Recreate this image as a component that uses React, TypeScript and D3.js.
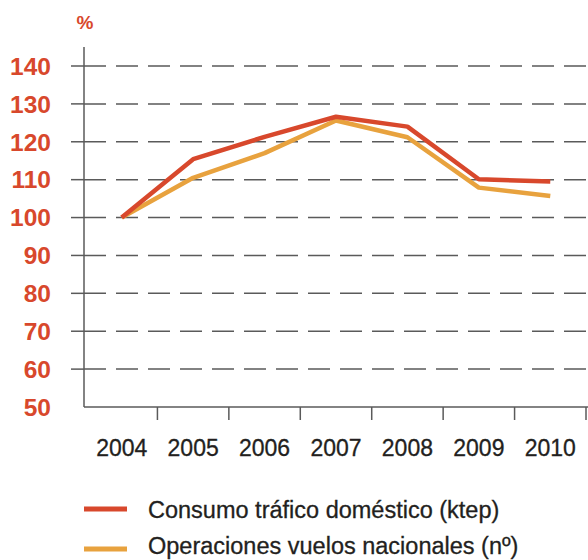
import { useMemo } from "react";
import * as d3 from "d3";

const years = ["2004", "2005", "2006", "2007", "2008", "2009", "2010"];
const consumo = [100, 115.4, 121.3, 126.6, 124, 110.1, 109.5];
const operaciones = [100, 110.5, 117, 125.6, 121.2, 107.9, 105.7];
const yTicks = [140, 130, 120, 110, 100, 90, 80, 70, 60, 50];

const RED = "#d8482c";
const ORANGE = "#e8a23e";
const GRID = "#5a5a5a";
const TEXT = "#231f20";

const width = 588;
const height = 560;

const App = () => {
  const x = useMemo(
    () => d3.scalePoint<string>().domain(years).range([86, 586]).padding(0.5),
    []
  );
  const y = useMemo(() => d3.scaleLinear().domain([50, 140]).range([407, 66]), []);

  const line = d3
    .line<number>()
    .x((_, i) => x(years[i]) ?? 0)
    .y((d) => y(d));

  const step = x.step();
  const axisLeft = 84;

  return (
    <svg
      width={width}
      height={height}
      style={{ position: "absolute", left: 0, top: 0 }}
      fontFamily="'Liberation Sans', Arial, sans-serif"
    >
      {/* unit label */}
      <text x={85} y={29} textAnchor="middle" fontSize={19} fontWeight="bold" fill={RED}>
        %
      </text>

      {/* grid lines + y labels */}
      {yTicks.map((t) => (
        <g key={t}>
          {t > 50 && (
            <>
              <line x1={71} x2={axisLeft} y1={y(t)} y2={y(t)} stroke={GRID} strokeWidth={1.5} />
              <line
                x1={axisLeft}
                x2={width}
                y1={y(t)}
                y2={y(t)}
                stroke={GRID}
                strokeWidth={1.5}
                strokeDasharray="22,10"
              />
            </>
          )}
          <text
            x={51}
            y={y(t)}
            dy="0.36em"
            textAnchor="end"
            fontSize={24.5}
            fontWeight="bold"
            fill={RED}
          >
            {t}
          </text>
        </g>
      ))}

      {/* axes */}
      <line x1={axisLeft} x2={axisLeft} y1={47} y2={y(50)} stroke={GRID} strokeWidth={1.5} />
      <line x1={axisLeft} x2={width} y1={y(50)} y2={y(50)} stroke={GRID} strokeWidth={1.5} />
      {years.map((yr) => {
        const tx = (x(yr) ?? 0) + step / 2;
        return (
          <line key={"t" + yr} x1={tx} x2={tx} y1={y(50)} y2={420} stroke={GRID} strokeWidth={1.5} />
        );
      })}
      {years.map((yr) => (
        <text
          key={yr}
          x={x(yr)}
          y={456}
          textAnchor="middle"
          fontSize={23}
          fill={TEXT}
          stroke={TEXT}
          strokeWidth={0.3}
        >
          {yr}
        </text>
      ))}

      {/* series */}
      <path d={line(operaciones) ?? ""} fill="none" stroke={ORANGE} strokeWidth={4.5} strokeLinejoin="round" />
      <path d={line(consumo) ?? ""} fill="none" stroke={RED} strokeWidth={4.5} strokeLinejoin="round" />

      {/* legend */}
      <line x1={84} x2={127} y1={509} y2={509} stroke={RED} strokeWidth={5} />
      <text x={148} y={518} fontSize={23.5} fill={TEXT} stroke={TEXT} strokeWidth={0.3}>
        Consumo tráfico doméstico (ktep)
      </text>
      <line x1={84} x2={127} y1={549} y2={549} stroke={ORANGE} strokeWidth={5} />
      <text x={148} y={554} fontSize={23.5} fill={TEXT} stroke={TEXT} strokeWidth={0.3}>
        Operaciones vuelos nacionales (nº)
      </text>
    </svg>
  );
};

export default App;
